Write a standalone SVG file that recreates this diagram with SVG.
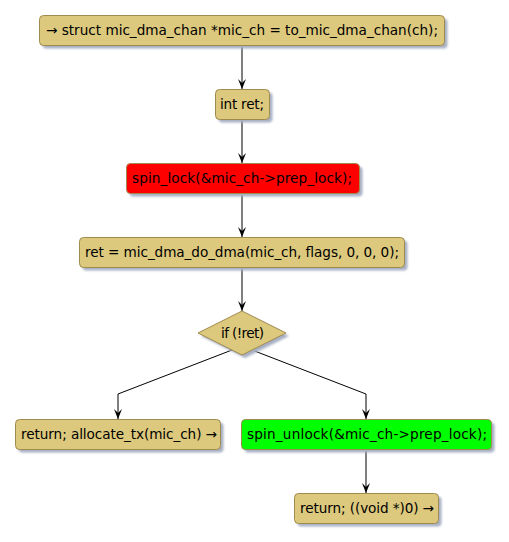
<svg xmlns="http://www.w3.org/2000/svg" width="509" height="542" viewBox="0 0 509 542">
<defs>
<style>
.box{stroke:#A08A4E;stroke-width:1;}
.tan{fill:#DCC97D;}
.red{fill:#FF0000;}
.green{fill:#00FF00;}
.sh{fill:#A7B0C4;}
.t{font-family:"DejaVu Sans",Verdana,sans-serif;font-size:13.6px;fill:#000;}
.ln{stroke:#000;stroke-width:1;fill:none;}
</style>
<filter id="blur" x="-10%" y="-30%" width="120%" height="160%"><feGaussianBlur stdDeviation="1.2"/></filter>
<marker id="ah" markerWidth="11" markerHeight="10" refX="10" refY="5" orient="auto" markerUnits="userSpaceOnUse" viewBox="0 0 11 10">
<path d="M0,1 L10,5 L0,9 L4,5 Z" fill="#000"/>
</marker>
</defs>
<g id="connectors">
<line class="ln" x1="242" y1="46" x2="242" y2="89" marker-end="url(#ah)"/>
<line class="ln" x1="242" y1="120" x2="242" y2="163" marker-end="url(#ah)"/>
<line class="ln" x1="242" y1="194" x2="242" y2="237" marker-end="url(#ah)"/>
<line class="ln" x1="242" y1="268" x2="242" y2="311" marker-end="url(#ah)"/>
<polyline class="ln" points="232,350 118,394 118,419" marker-end="url(#ah)"/>
<polyline class="ln" points="252,350 366,394 366,419" marker-end="url(#ah)"/>
<line class="ln" x1="366" y1="450" x2="366" y2="493" marker-end="url(#ah)"/>
</g>
<g id="n1">
<rect class="sh" x="42.5" y="18.5" width="405" height="30" rx="4" filter="url(#blur)"/>
<rect class="box tan" x="39.5" y="15.5" width="405" height="30" rx="4"/>
<text class="t" x="46" y="35" textLength="392" lengthAdjust="spacing">→ struct mic_dma_chan *mic_ch = to_mic_dma_chan(ch);</text>
</g>
<g id="n2">
<rect class="sh" x="218.5" y="92.5" width="54" height="30" rx="4" filter="url(#blur)"/>
<rect class="box tan" x="215.5" y="89.5" width="54" height="30" rx="4"/>
<text class="t" x="220" y="109" textLength="44" lengthAdjust="spacing">int ret;</text>
</g>
<g id="n3">
<rect class="sh" x="129.5" y="166.5" width="233" height="30" rx="4" filter="url(#blur)"/>
<rect class="box red" x="126.5" y="163.5" width="233" height="30" rx="4"/>
<text class="t" x="132" y="183" textLength="220" lengthAdjust="spacing">spin_lock(&amp;mic_ch-&gt;prep_lock);</text>
</g>
<g id="n4">
<rect class="sh" x="82.5" y="240.5" width="325" height="30" rx="4" filter="url(#blur)"/>
<rect class="box tan" x="79.5" y="237.5" width="325" height="30" rx="4"/>
<text class="t" x="85" y="257" textLength="314" lengthAdjust="spacing">ret = mic_dma_do_dma(mic_ch, flags, 0, 0, 0);</text>
</g>
<g id="n5">
<polygon class="sh" points="201,336 245,314 289,336 245,358" filter="url(#blur)"/>
<polygon class="box tan" points="198,333 242,311 286,333 242,355"/>
<text class="t" x="221" y="338" textLength="43" lengthAdjust="spacing">if (!ret)</text>
</g>
<g id="n6">
<rect class="sh" x="18.5" y="422.5" width="205" height="30" rx="4" filter="url(#blur)"/>
<rect class="box tan" x="15.5" y="419.5" width="205" height="30" rx="4"/>
<text class="t" x="21" y="439" textLength="196" lengthAdjust="spacing">return; allocate_tx(mic_ch) →</text>
</g>
<g id="n7">
<rect class="sh" x="244.5" y="422.5" width="250" height="30" rx="4" filter="url(#blur)"/>
<rect class="box green" x="241.5" y="419.5" width="250" height="30" rx="4"/>
<text class="t" x="247" y="439" textLength="240" lengthAdjust="spacing">spin_unlock(&amp;mic_ch-&gt;prep_lock);</text>
</g>
<g id="n8">
<rect class="sh" x="297.5" y="496.5" width="144" height="30" rx="4" filter="url(#blur)"/>
<rect class="box tan" x="294.5" y="493.5" width="144" height="30" rx="4"/>
<text class="t" x="300" y="513" textLength="134" lengthAdjust="spacing">return; ((void *)0) →</text>
</g>
</svg>
